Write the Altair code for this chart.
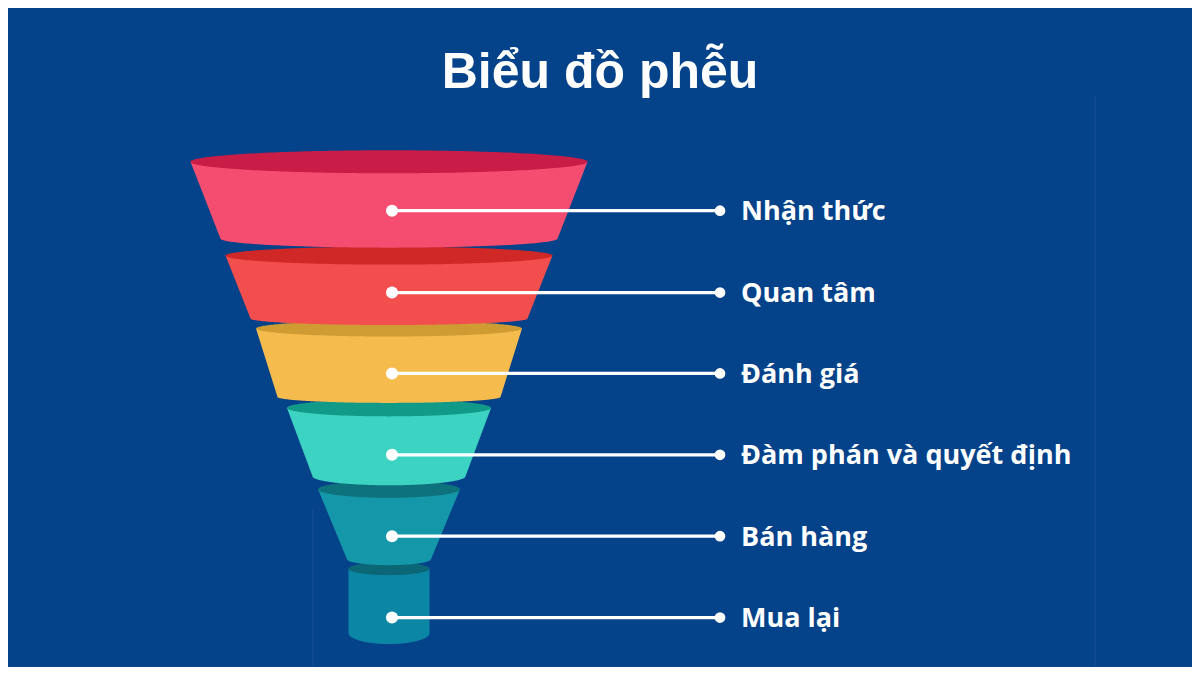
import altair as alt
import numpy as np
import pandas as pd

# ---- chart content -------------------------------------------------------
title_text = "Biểu đồ phễu"
stages = ["Nhận thức", "Quan tâm", "Đánh giá", "Đàm phán và quyết định", "Bán hàng", "Mua lại"]

# funnel layer geometry (page pixels)
top_half_width = [198.5, 163.5, 133.0, 102.0, 71.0, 40.5]
bottom_half_width = [168.5, 138.5, 111.5, 76.5, 42.0, 40.5]
top_y = [162.0, 256.0, 329.0, 408.5, 490.0, 569.5]
bottom_y = [239.0, 319.0, 397.5, 477.0, 560.0, 634.0]
top_ry = [11.5, 9.0, 8.0, 8.5, 8.5, 6.5]
bottom_ry = [9.0, 6.5, 6.0, 9.0, 6.0, 11.0]
label_y = [211.0, 293.0, 374.0, 455.5, 537.0, 618.5]

body_colors = ["#F54D70", "#F24E4E", "#F5BB4D", "#3DD3C3", "#1497A8", "#0B87A5"]
top_colors = ["#C91C46", "#D02727", "#CF9C33", "#129A89", "#0E727C", "#0B6676"]

BG = "#04428A"
center_x = 389.0
dot_x = 392.0
end_x = 720.0
text_x = 741.0
seam_x = [1095.0, 313.0]
seam_y0 = [97.0, 510.0]

# ---- build outline tables ------------------------------------------------
n = 120
theta = np.linspace(np.pi, 0, n)


def body_table(k):
    T, B = top_half_width[k], bottom_half_width[k]
    yt, yb = top_y[k], bottom_y[k]
    xs = [center_x - T] + list(center_x + B * np.cos(theta)) + [center_x + T]
    ys2 = [yt] + list(yb + bottom_ry[k] * np.sin(theta)) + [yt]
    return pd.DataFrame({"x": [float(v) for v in xs],
                         "y": [float(yt)] * len(xs),
                         "y2": [float(v) for v in ys2]})


def top_table(k):
    T, yt, r = top_half_width[k], top_y[k], top_ry[k]
    return pd.DataFrame({"x": [float(v) for v in center_x + T * np.cos(theta)],
                         "y": [float(v) for v in yt - r * np.sin(theta)],
                         "y2": [float(v) for v in yt + r * np.sin(theta)]})


xs_ = alt.Scale(domain=[8, 1192], nice=False, zero=False)
ys_ = alt.Scale(domain=[8, 667], reverse=True, nice=False, zero=False)


def X(f):
    return alt.X(f, type="quantitative", scale=xs_, axis=None)


def Y(f):
    return alt.Y(f, type="quantitative", scale=ys_, axis=None)


layers = []

# faint seams in the background
seam_df = pd.DataFrame({"x": seam_x, "y0": seam_y0, "y1": [667.0, 667.0]})
layers.append(
    alt.Chart(seam_df).mark_rule(color="#2A5C9C", strokeWidth=1.5, opacity=0.45)
    .encode(x=X("x"), y=Y("y0"), y2="y1:Q")
)

for k in reversed(range(len(stages))):
    layers.append(
        alt.Chart(body_table(k)).mark_area(color=body_colors[k], opacity=1, orient="vertical")
        .encode(x=X("x"), y=Y("y"), y2="y2:Q")
    )
    layers.append(
        alt.Chart(top_table(k)).mark_area(color=top_colors[k], opacity=1, orient="vertical")
        .encode(x=X("x"), y=Y("y"), y2="y2:Q")
    )

lab_df = pd.DataFrame({"stage": stages, "y": label_y,
                       "x0": [dot_x] * len(stages), "x1": [end_x] * len(stages),
                       "tx": [text_x] * len(stages)})

layers.append(
    alt.Chart(lab_df).mark_rule(color="white", strokeWidth=3.2)
    .encode(x=X("x0"), x2="x1:Q", y=Y("y"))
)
layers.append(
    alt.Chart(lab_df).mark_circle(color="white", opacity=1, size=145)
    .encode(x=X("x0"), y=Y("y"))
)
layers.append(
    alt.Chart(lab_df).mark_circle(color="white", opacity=1, size=115)
    .encode(x=X("x1"), y=Y("y"))
)
layers.append(
    alt.Chart(lab_df).mark_text(color="white", font="Open Sans", fontWeight="bold",
                                fontSize=27, align="left", baseline="alphabetic", dy=9.5)
    .encode(x=X("tx"), y=Y("y"), text="stage:N")
)

title_df = pd.DataFrame({"t": [title_text], "x": [600.0], "y": [88.0]})
layers.append(
    alt.Chart(title_df).mark_text(color="white", font="Liberation Sans", fontWeight="bold",
                                  fontSize=50, align="center", baseline="alphabetic")
    .encode(x=X("x"), y=Y("y"), text="t:N")
)

chart = alt.layer(*layers).properties(
    width=1184, height=659,
    autosize=alt.AutoSizeParams(type="fit", contains="padding"),
    padding=0,
    background=BG,
).configure_view(stroke=None, fill=BG)

chart.save("out.html", embed_options={"renderer": "svg", "actions": False})
